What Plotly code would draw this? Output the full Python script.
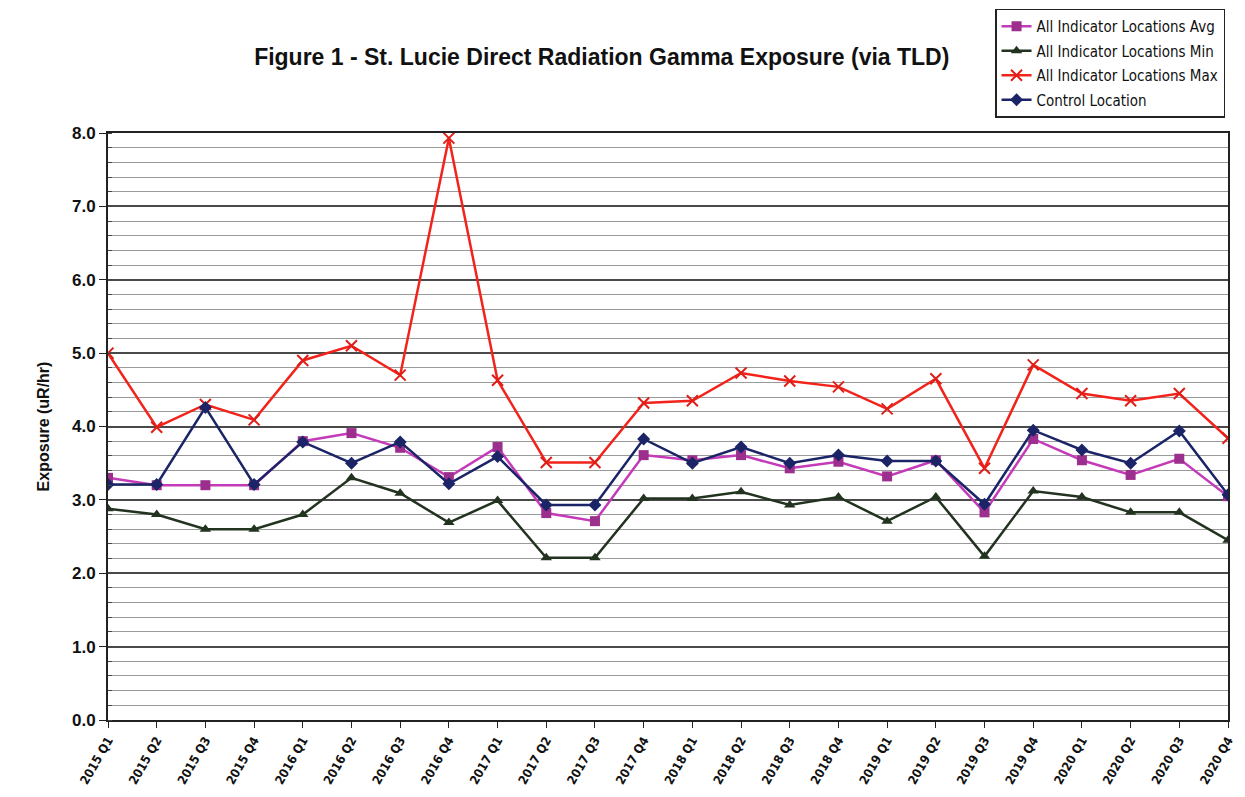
import plotly.graph_objects as go

quarters = ["2015 Q1","2015 Q2","2015 Q3","2015 Q4","2016 Q1","2016 Q2","2016 Q3","2016 Q4",
            "2017 Q1","2017 Q2","2017 Q3","2017 Q4","2018 Q1","2018 Q2","2018 Q3","2018 Q4",
            "2019 Q1","2019 Q2","2019 Q3","2019 Q4","2020 Q1","2020 Q2","2020 Q3","2020 Q4"]
avg_vals = [3.30,3.20,3.20,3.20,3.80,3.91,3.71,3.31,3.72,2.82,2.71,3.61,3.54,3.61,3.43,3.52,
            3.32,3.54,2.83,3.83,3.54,3.34,3.56,3.05]
min_vals = [2.88,2.80,2.60,2.60,2.80,3.30,3.09,2.69,2.99,2.21,2.21,3.02,3.02,3.11,2.93,3.04,
            2.71,3.04,2.23,3.12,3.04,2.83,2.83,2.45]
max_vals = [5.00,3.99,4.30,4.09,4.90,5.10,4.70,7.93,4.63,3.51,3.51,4.32,4.35,4.73,4.62,4.54,
            4.24,4.65,3.43,4.84,4.45,4.35,4.45,3.84]
ctrl_vals = [3.21,3.21,4.26,3.21,3.79,3.50,3.79,3.22,3.59,2.93,2.93,3.83,3.50,3.72,3.50,3.61,
             3.53,3.53,2.94,3.95,3.68,3.50,3.94,3.07]
y_ticks = [0, 1, 2, 3, 4, 5, 6, 7, 8]

xs = list(range(len(quarters)))
font_narrow = "DejaVu Sans Condensed, Liberation Sans Narrow, Arial Narrow, Liberation Sans, Arial, sans-serif"
font_main = "Liberation Sans, Arial, sans-serif"

fig = go.Figure()
fig.add_trace(go.Scatter(x=xs, y=avg_vals, name="All Indicator Locations Avg", mode="lines+markers",
                         legendgroup="a",
                         line=dict(color="#C43AB8", width=2.5),
                         marker=dict(symbol="square", size=10, color="#9C2F8E")))
fig.add_trace(go.Scatter(x=xs, y=min_vals, name="All Indicator Locations Min", mode="lines+markers",
                         legendgroup="b",
                         line=dict(color="#22331F", width=2.5),
                         marker=dict(symbol="triangle-up", size=10, color="#22331F")))
fig.add_trace(go.Scatter(x=xs, y=max_vals, name="All Indicator Locations Max", mode="lines+markers",
                         legendgroup="c",
                         line=dict(color="#F2231B", width=2.5),
                         marker=dict(symbol="x-thin", size=11, color="#F2231B",
                                     line=dict(color="#E01E18", width=2))))
fig.add_trace(go.Scatter(x=xs, y=ctrl_vals, name="Control Location", mode="lines+markers",
                         legendgroup="d",
                         line=dict(color="#1B2466", width=2.5),
                         marker=dict(symbol="diamond", size=10, color="#1B2466")))

fig.update_layout(
    width=1237, height=789,
    paper_bgcolor="white", plot_bgcolor="white",
    margin=dict(l=100, r=17, t=125, b=77, autoexpand=False),
    title=dict(text="<b>Figure 1 - St. Lucie Direct Radiation Gamma Exposure (via TLD)</b>",
               x=0.480, xanchor="center", y=0.938, yanchor="middle",
               font=dict(family=font_main, size=23, color="#111111")),
    legend=dict(x=0.792, xanchor="left", y=1.212, yanchor="top",
                bgcolor="white", bordercolor="#222222", borderwidth=1.5,
                font=dict(family=font_narrow, size=15, color="#111111"),
                tracegroupgap=2, itemwidth=30),
    showlegend=True,
)
fig.update_xaxes(range=[0, 23], tickmode="array", tickvals=xs, ticktext=[f"<b>{q}</b>" for q in quarters],
                 tickangle=-60, tickfont=dict(family=font_narrow, size=12.5, color="#111111"),
                 showgrid=False, showline=True, linecolor="#222222", linewidth=2, mirror=True,
                 ticks="outside", ticklen=6, tickcolor="#222222", zeroline=False, automargin=False)
fig.update_yaxes(range=[0, 8], tickmode="array", tickvals=y_ticks,
                 ticktext=[f"<b>{v:.1f}</b>" for v in y_ticks],
                 tickfont=dict(family=font_main, size=17, color="#111111"),
                 title=dict(text="<b>Exposure (uR/hr)</b>", standoff=18,
                            font=dict(family=font_main, size=16, color="#111111")),
                 showgrid=True, gridcolor="#4a4a4a", gridwidth=1.5,
                 minor=dict(dtick=0.2, showgrid=True, gridcolor="#9a9a9a", gridwidth=1,
                            ticks="inside", ticklen=4, tickcolor="#444444"),
                 showline=True, linecolor="#222222", linewidth=2, mirror=True,
                 ticks="outside", ticklen=7, tickcolor="#222222", zeroline=False, automargin=False)

fig.write_html("out.html")
